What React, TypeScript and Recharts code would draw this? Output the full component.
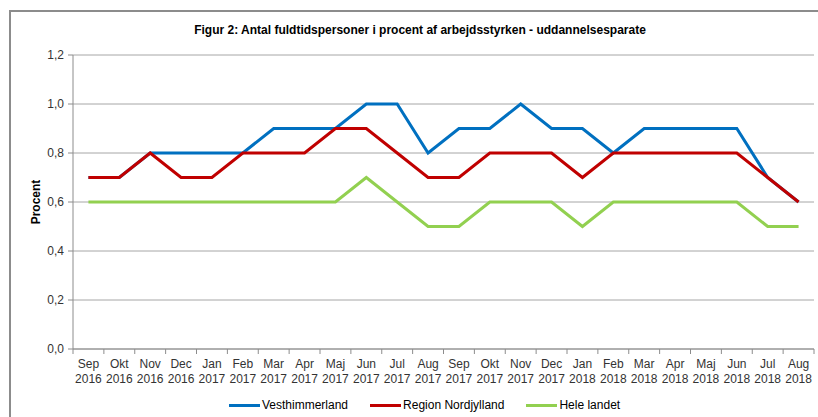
import React from 'react';
import { LineChart, Line, XAxis, YAxis, CartesianGrid } from 'recharts';

const months = ['Sep', 'Okt', 'Nov', 'Dec', 'Jan', 'Feb', 'Mar', 'Apr', 'Maj', 'Jun', 'Jul', 'Aug', 'Sep', 'Okt', 'Nov', 'Dec', 'Jan', 'Feb', 'Mar', 'Apr', 'Maj', 'Jun', 'Jul', 'Aug'];
const years = ['2016', '2016', '2016', '2016', '2017', '2017', '2017', '2017', '2017', '2017', '2017', '2017', '2017', '2017', '2017', '2017', '2018', '2018', '2018', '2018', '2018', '2018', '2018', '2018'];
const vesthimmerland = [0.7, 0.7, 0.8, 0.8, 0.8, 0.8, 0.9, 0.9, 0.9, 1.0, 1.0, 0.8, 0.9, 0.9, 1.0, 0.9, 0.9, 0.8, 0.9, 0.9, 0.9, 0.9, 0.7, 0.6];
const nordjylland = [0.7, 0.7, 0.8, 0.7, 0.7, 0.8, 0.8, 0.8, 0.9, 0.9, 0.8, 0.7, 0.7, 0.8, 0.8, 0.8, 0.7, 0.8, 0.8, 0.8, 0.8, 0.8, 0.7, 0.6];
const heleLandet = [0.6, 0.6, 0.6, 0.6, 0.6, 0.6, 0.6, 0.6, 0.6, 0.7, 0.6, 0.5, 0.5, 0.6, 0.6, 0.6, 0.5, 0.6, 0.6, 0.6, 0.6, 0.6, 0.5, 0.5];
const yTicks = [0, 0.2, 0.4, 0.6, 0.8, 1.0, 1.2];

const seriesNames = ['Vesthimmerland', 'Region Nordjylland', 'Hele landet'];
const seriesColors = ['#0070C0', '#C00000', '#92D050'];

const data = months.map((m, i) => ({
  key: String(i),
  month: m,
  year: years[i],
  v: vesthimmerland[i],
  r: nordjylland[i],
  h: heleLandet[i],
}));

const FONT = 'Arial, "Liberation Sans", sans-serif';
const AXIS = '#8c8c8c';
const HALF_BAND = 741 / 24 / 2;

const XTick = (props: any) => {
  const { x, payload } = props;
  const i = Number(payload.value);
  return (
    <g>
      <line x1={x - HALF_BAND} x2={x - HALF_BAND} y1={349} y2={354} stroke={AXIS} />
      {i === months.length - 1 ? (
        <line x1={x + HALF_BAND} x2={x + HALF_BAND} y1={349} y2={354} stroke={AXIS} />
      ) : null}
      <text x={x} y={368} textAnchor="middle" fontFamily={FONT} fontSize={12} fill="#333">
        {months[i]}
      </text>
      <text x={x} y={383} textAnchor="middle" fontFamily={FONT} fontSize={12} fill="#333">
        {years[i]}
      </text>
    </g>
  );
};

export default function App() {
  return (
    <div style={{ position: 'absolute', left: 0, top: 0, width: 818, height: 417, overflow: 'hidden', background: '#fff' }}>
      <div
        style={{
          position: 'absolute',
          left: 9,
          top: 10,
          width: 830,
          height: 430,
          border: '2px solid #8c8c8c',
          boxSizing: 'border-box',
        }}
      />
      <div
        style={{
          position: 'absolute',
          left: 0,
          top: 23,
          width: 840,
          textAlign: 'center',
          fontFamily: FONT,
          fontWeight: 'bold',
          fontSize: 12,
          lineHeight: '14px',
          color: '#000',
        }}
      >
        Figur 2: Antal fuldtidspersoner i procent af arbejdsstyrken - uddannelsesparate
      </div>
      <div style={{ position: 'absolute', left: 0, top: 0 }}>
        <LineChart width={818} height={417} data={data} margin={{ top: 55, right: 4, left: 0, bottom: 28 }}>
          <CartesianGrid vertical={false} stroke="#a6a6a6" />
          <XAxis
            dataKey="key"
            scale="band"
            interval={0}
            height={40}
            axisLine={{ stroke: AXIS }}
            tickLine={false}
            tick={<XTick />}
          />
          <YAxis
            width={73}
            domain={[0, 1.2]}
            ticks={yTicks}
            interval={0}
            axisLine={{ stroke: AXIS }}
            tickLine={{ stroke: AXIS }}
            tickSize={5}
            tickMargin={4}
            tick={{ fontFamily: FONT, fontSize: 12, fill: '#333' }}
            tickFormatter={(v: number) => v.toFixed(1).replace('.', ',')}
            label={{
              content: () => (
                <text
                  x={40}
                  y={202}
                  transform="rotate(-90 40 202)"
                  textAnchor="middle"
                  fontFamily={FONT}
                  fontWeight="bold"
                  fontSize={12}
                  fill="#000"
                >
                  Procent
                </text>
              ),
            }}
          />
          <Line type="linear" dataKey="v" name={seriesNames[0]} stroke={seriesColors[0]} strokeWidth={3} dot={false} isAnimationActive={false} />
          <Line type="linear" dataKey="r" name={seriesNames[1]} stroke={seriesColors[1]} strokeWidth={3} dot={false} isAnimationActive={false} />
          <Line type="linear" dataKey="h" name={seriesNames[2]} stroke={seriesColors[2]} strokeWidth={3} dot={false} isAnimationActive={false} />
        </LineChart>
      </div>
      <div
        style={{
          position: 'absolute',
          left: 229,
          top: 397,
          display: 'flex',
          alignItems: 'center',
          fontFamily: FONT,
          fontSize: 12,
          color: '#000',
          height: 16,
        }}
      >
        {seriesNames.map((n, i) => (
          <div key={n} style={{ display: 'flex', alignItems: 'center', marginRight: i < 2 ? 22 : 0 }}>
            <div style={{ width: 31, height: 3, background: seriesColors[i], marginRight: 2 }} />
            <span>{n}</span>
          </div>
        ))}
      </div>
    </div>
  );
}
